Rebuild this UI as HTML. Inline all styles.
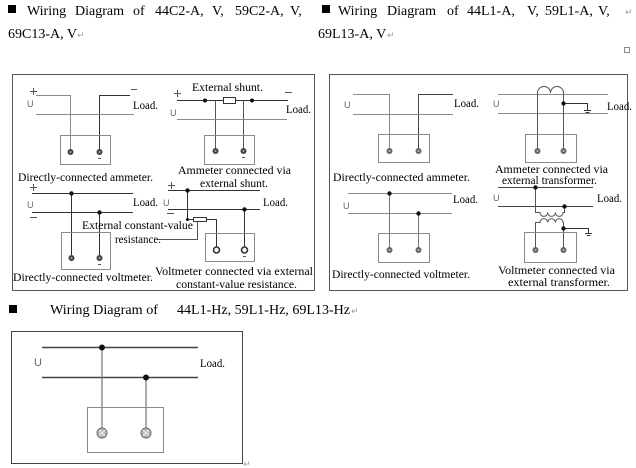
<!DOCTYPE html>
<html><head><meta charset="utf-8"><style>
html,body{margin:0;padding:0;background:#fff;}
svg{display:block;}
text{font-family:"Liberation Serif",serif;fill:#000;font-size:12px;}
.h{font-size:14px;}
.s{font-family:"Liberation Sans",sans-serif;fill:#666;font-size:9px;}
.m{font-family:"DejaVu Sans",sans-serif;fill:#999;font-size:9px;}
</style></head><body>
<svg width="636" height="468" viewBox="0 0 636 468" xmlns="http://www.w3.org/2000/svg">
<!-- headings -->
<rect x="8" y="5" width="8" height="8" fill="#000"/>
<text class="h" x="27" y="15">Wiring</text>
<text class="h" x="75" y="15">Diagram</text>
<text class="h" x="133" y="15">of</text>
<text class="h" x="155" y="15">44C2-A,</text>
<text class="h" x="212" y="15">V,</text>
<text class="h" x="235" y="15">59C2-A,</text>
<text class="h" x="290" y="15">V,</text>
<text class="h" x="8" y="38">69C13-A, V</text>
<text class="m" x="77" y="38">↵</text>

<rect x="322" y="5" width="8" height="8" fill="#000"/>
<text class="h" x="338" y="15">Wiring</text>
<text class="h" x="387" y="15">Diagram</text>
<text class="h" x="447" y="15">of</text>
<text class="h" x="467" y="15">44L1-A,</text>
<text class="h" x="527" y="15">V,</text>
<text class="h" x="545" y="15">59L1-A,</text>
<text class="h" x="598" y="15">V,</text>
<text class="m" x="625" y="15">↵</text>
<text class="h" x="318" y="38">69L13-A, V</text>
<text class="m" x="387" y="38">↵</text>
<rect x="624.5" y="47.5" width="5" height="5" fill="none" stroke="#888"/>

<!-- boxes -->
<rect x="12.5" y="74.5" width="302" height="216" fill="none" stroke="#555"/>
<rect x="329.5" y="74.5" width="298" height="216" fill="none" stroke="#555"/>

<g fill="none" stroke-width="1">
<!-- Diagram 1 -->
<path d="M30,91.5h7M33.5,88v7M131,89.5h6" stroke="#555"/>
<path d="M36,95.5H70.5V152" stroke="#8a8a8a"/>
<path d="M130,95.5H99.5V152" stroke="#333"/>
<path d="M36,114.5H134" stroke="#8a8a8a"/>
<rect x="60.5" y="135.5" width="50" height="29" stroke="#8a8a8a"/>
<path d="M98,158.5h3" stroke="#555"/>

<!-- Diagram 2 -->
<path d="M174,93.5h7M177.5,90v7M285,92.5h7" stroke="#555"/>
<path d="M177,100.5H223M236,100.5H288" stroke="#333"/>
<rect x="223.5" y="97.5" width="12" height="6" stroke="#333" fill="#fff"/>
<path d="M215.5,100.5V151M243.5,100.5V151" stroke="#555"/>
<path d="M177,119.5H287" stroke="#8a8a8a"/>
<rect x="204.5" y="135.5" width="50" height="29" stroke="#8a8a8a"/>
<path d="M242,157.5h3" stroke="#555"/>

<!-- Diagram 3 -->
<path d="M30,187.5h7M33.5,184v7M30,217.5h7" stroke="#555"/>
<path d="M32,193.5H133M32,212.5H133" stroke="#333"/>
<path d="M71.5,193.5V258M99.5,212.5V258" stroke="#333"/>
<rect x="61.5" y="232.5" width="49" height="37" stroke="#8a8a8a"/>
<path d="M98,264.5h3" stroke="#555"/>

<!-- Diagram 4 -->
<path d="M168,185.5h7M171.5,182v7M167,213.5h7" stroke="#555"/>
<path d="M168,190.5H260M168,209.5H260" stroke="#333"/>
<path d="M187.5,190.5V219.5H193" stroke="#333"/>
<rect x="193.5" y="217.5" width="13" height="4" stroke="#333" fill="#fff"/>
<path d="M207,219.5H216.5V250" stroke="#333"/>
<path d="M197.5,221.5V239.5H158" stroke="#555"/>
<path d="M244.5,209.5V250" stroke="#333"/>
<rect x="205.5" y="233.5" width="49" height="28" stroke="#8a8a8a"/>
<path d="M243,256.5h3" stroke="#555"/>

<!-- Diagram 5 -->
<path d="M353,94.5H389.5V151" stroke="#8a8a8a"/>
<path d="M453,94.5H418.5V151" stroke="#444"/>
<path d="M353,114.5H453" stroke="#8a8a8a"/>
<rect x="378.5" y="134.5" width="51" height="28" stroke="#8a8a8a"/>

<!-- Diagram 6 -->
<path d="M348,193.5H452M348,213.5H452" stroke="#8a8a8a"/>
<path d="M389.5,193.5V250M418.5,213.5V250" stroke="#777"/>
<rect x="378.5" y="233.5" width="51" height="29" stroke="#8a8a8a"/>

<!-- Diagram 7 -->
<path d="M498,94.5H608M498,113.5H608" stroke="#8a8a8a"/>
<path d="M537.5,151V93A6.5,6.5 0 0 1 550.5,93A6.5,6.5 0 0 1 563.5,93V151" stroke="#555"/>
<path d="M563.5,103.5H587.5V110M584,110.5h7M585.5,112.5h4" stroke="#333"/>
<rect x="525.5" y="134.5" width="51" height="28" stroke="#8a8a8a"/>

<!-- Diagram 8 -->
<path d="M498,187.5H593M498,206.5H593" stroke="#444"/>
<path d="M535.5,187.5V212.5H540a3.85,3.85 0 0 0 7.7,0a3.85,3.85 0 0 0 7.7,0a3.85,3.85 0 0 0 7.7,0H564.5V206.5" stroke="#555"/>
<path d="M535.5,250V222.5H540a3.85,3.85 0 0 1 7.7,0a3.85,3.85 0 0 1 7.7,0a3.85,3.85 0 0 1 7.7,0H563.5V250" stroke="#555"/>
<path d="M563.5,228.5H588.5V233M585,233.5h7M586.5,235.5h4" stroke="#333"/>
<rect x="524.5" y="232.5" width="52" height="30" stroke="#8a8a8a"/>

<!-- Bottom -->
<rect x="11.5" y="331.5" width="231" height="132" stroke="#444"/>
<path d="M42,347.5H198M42,377.5H198" stroke="#444" stroke-width="1.5"/>
<path d="M102,347.5V433M146,377.5V433" stroke="#777" stroke-width="1.2"/>
<rect x="87.5" y="407.5" width="76" height="45" stroke="#8a8a8a"/>
</g>

<!-- dots -->
<g fill="#111">
<circle cx="205" cy="100.5" r="2"/><circle cx="252" cy="100.5" r="2"/>
<circle cx="71.5" cy="193.5" r="2.2"/><circle cx="99.5" cy="212.5" r="2.2"/>
<circle cx="187.5" cy="190.5" r="2.2"/><circle cx="244.5" cy="209.5" r="2.2"/><circle cx="187.5" cy="219.5" r="1.5"/>
<circle cx="389.5" cy="193.5" r="2.2"/><circle cx="418.5" cy="213.5" r="2.2"/>
<circle cx="563.5" cy="103.5" r="2.2"/>
<circle cx="535.5" cy="187.5" r="2.2"/><circle cx="564.5" cy="206.5" r="2.2"/><circle cx="563.5" cy="228.5" r="2.2"/>
<circle cx="102" cy="347.5" r="3"/><circle cx="146" cy="377.5" r="3"/>
</g>

<!-- terminals -->
<g>
<circle cx="70.5" cy="152" r="3" fill="#444"/><circle cx="70.5" cy="152" r="1" fill="#aaa"/>
<circle cx="99.5" cy="152" r="3" fill="#444"/><circle cx="99.5" cy="152" r="1" fill="#aaa"/>
<circle cx="215.5" cy="151" r="3" fill="#444"/><circle cx="215.5" cy="151" r="1" fill="#aaa"/>
<circle cx="243.5" cy="151" r="3" fill="#444"/><circle cx="243.5" cy="151" r="1" fill="#aaa"/>
<circle cx="71.5" cy="258" r="3" fill="#444"/><circle cx="71.5" cy="258" r="1" fill="#aaa"/>
<circle cx="99.5" cy="258" r="3" fill="#444"/><circle cx="99.5" cy="258" r="1" fill="#aaa"/>
<circle cx="216.5" cy="250" r="3" fill="#fff" stroke="#333" stroke-width="1.6"/>
<circle cx="244.5" cy="250" r="3" fill="#fff" stroke="#333" stroke-width="1.6"/>
<circle cx="389.5" cy="151" r="3" fill="#666"/><circle cx="389.5" cy="151" r="1" fill="#bbb"/>
<circle cx="418.5" cy="151" r="3" fill="#666"/><circle cx="418.5" cy="151" r="1" fill="#bbb"/>
<circle cx="389.5" cy="250" r="3" fill="#666"/><circle cx="389.5" cy="250" r="1" fill="#bbb"/>
<circle cx="418.5" cy="250" r="3" fill="#666"/><circle cx="418.5" cy="250" r="1" fill="#bbb"/>
<circle cx="537.5" cy="151" r="3" fill="#666"/><circle cx="537.5" cy="151" r="1" fill="#bbb"/>
<circle cx="563.5" cy="151" r="3" fill="#666"/><circle cx="563.5" cy="151" r="1" fill="#bbb"/>
<circle cx="535.5" cy="250" r="3" fill="#666"/><circle cx="535.5" cy="250" r="1" fill="#bbb"/>
<circle cx="563.5" cy="250" r="3" fill="#666"/><circle cx="563.5" cy="250" r="1" fill="#bbb"/>
<circle cx="102" cy="433" r="5" fill="#bbb" stroke="#666"/><path d="M99,430l6,6M105,430l-6,6" stroke="#eee"/>
<circle cx="146" cy="433" r="5" fill="#bbb" stroke="#666"/><path d="M143,430l6,6M149,430l-6,6" stroke="#eee"/>
</g>

<!-- U labels -->
<text class="s" x="27" y="107">U</text>
<text class="s" x="170" y="116">U</text>
<text class="s" x="27" y="208">U</text>
<text class="s" x="163" y="206">U</text>
<text class="s" x="344" y="108">U</text>
<text class="s" x="343" y="209">U</text>
<text class="s" x="493" y="107">U</text>
<text class="s" x="493" y="201">U</text>
<text class="s" x="34" y="366" style="font-size:11px">U</text>

<!-- labels -->
<text x="133" y="109" textLength="25" lengthAdjust="spacingAndGlyphs">Load.</text>
<text x="18" y="181" textLength="135" lengthAdjust="spacingAndGlyphs">Directly-connected ammeter.</text>
<text x="192" y="91" textLength="71" lengthAdjust="spacingAndGlyphs">External shunt.</text>
<text x="286" y="113" textLength="25" lengthAdjust="spacingAndGlyphs">Load.</text>
<text x="178" y="174" textLength="113" lengthAdjust="spacingAndGlyphs">Ammeter connected via</text>
<text x="200" y="187" textLength="68" lengthAdjust="spacingAndGlyphs">external shunt.</text>
<text x="133" y="206" textLength="25" lengthAdjust="spacingAndGlyphs">Load.</text>
<text x="13" y="281" textLength="140" lengthAdjust="spacingAndGlyphs">Directly-connected voltmeter.</text>
<text x="263" y="206" textLength="25" lengthAdjust="spacingAndGlyphs">Load.</text>
<text x="82" y="229" textLength="111" lengthAdjust="spacingAndGlyphs">External constant-value</text>
<text x="115" y="243" textLength="46" lengthAdjust="spacingAndGlyphs">resistance.</text>
<text x="155" y="275" textLength="158" lengthAdjust="spacingAndGlyphs">Voltmeter connected via external</text>
<text x="176" y="288" textLength="121" lengthAdjust="spacingAndGlyphs">constant-value resistance.</text>

<text x="454" y="107" textLength="25" lengthAdjust="spacingAndGlyphs">Load.</text>
<text x="333" y="181" textLength="137" lengthAdjust="spacingAndGlyphs">Directly-connected ammeter.</text>
<text x="453" y="203" textLength="25" lengthAdjust="spacingAndGlyphs">Load.</text>
<text x="332" y="278" textLength="138" lengthAdjust="spacingAndGlyphs">Directly-connected voltmeter.</text>
<text x="607" y="110" textLength="25" lengthAdjust="spacingAndGlyphs">Load.</text>
<text x="495" y="173" textLength="113" lengthAdjust="spacingAndGlyphs">Ammeter connected via</text>
<text x="502" y="184" textLength="95" lengthAdjust="spacingAndGlyphs">external transformer.</text>
<text x="597" y="202" textLength="25" lengthAdjust="spacingAndGlyphs">Load.</text>
<text x="498" y="274" textLength="117" lengthAdjust="spacingAndGlyphs">Voltmeter connected via</text>
<text x="508" y="286" textLength="102" lengthAdjust="spacingAndGlyphs">external transformer.</text>

<!-- bottom heading -->
<rect x="9" y="305" width="8" height="8" fill="#000"/>
<text class="h" x="50" y="314" textLength="108" lengthAdjust="spacingAndGlyphs">Wiring Diagram of</text>
<text class="h" x="177" y="314" textLength="173" lengthAdjust="spacingAndGlyphs">44L1-Hz, 59L1-Hz, 69L13-Hz</text>
<text class="m" x="351" y="314">↵</text>
<text x="200" y="367" textLength="25" lengthAdjust="spacingAndGlyphs">Load.</text>
<text class="m" x="243" y="467">↵</text>
</svg>
</body></html>
